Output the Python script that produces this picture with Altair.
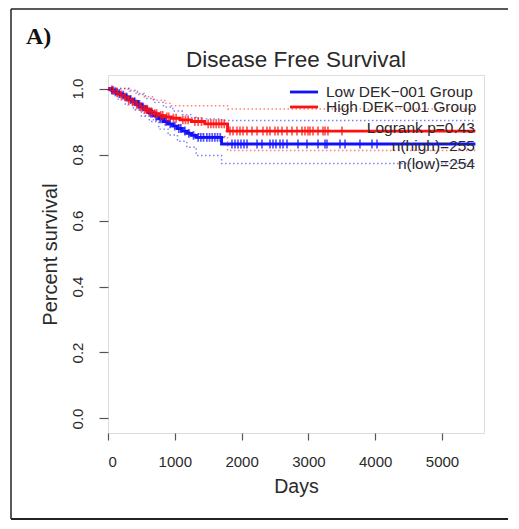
import altair as alt
import pandas as pd

# ---- data ----
low_t = [0, 40, 90, 140, 200, 260, 320, 380, 440, 500, 560, 620, 690, 760, 830, 900, 970, 1040, 1110, 1180, 1250, 1320, 1700, 5500]
low_s = [1.000, 0.996, 0.990, 0.985, 0.980, 0.974, 0.967, 0.960, 0.952, 0.944, 0.936, 0.926, 0.917, 0.908, 0.900, 0.893, 0.886, 0.879, 0.871, 0.864, 0.858, 0.852, 0.832, 0.832]
low_up_t = [0, 200, 320, 440, 560, 690, 830, 970, 1110, 1250, 1320, 1700, 5500]
low_up = [1.000, 1.000, 0.992, 0.982, 0.970, 0.958, 0.944, 0.932, 0.921, 0.912, 0.908, 0.903, 0.903]
low_lo_t = [0, 40, 140, 260, 380, 500, 620, 760, 900, 1040, 1180, 1320, 1700, 5500]
low_lo = [1.000, 0.985, 0.968, 0.952, 0.935, 0.916, 0.900, 0.877, 0.859, 0.840, 0.822, 0.797, 0.773, 0.773]

high_t = [0, 60, 120, 180, 240, 300, 360, 420, 480, 540, 600, 680, 760, 850, 950, 1080, 1250, 1450, 1790, 5500]
high_s = [1.000, 0.994, 0.987, 0.981, 0.974, 0.967, 0.960, 0.953, 0.945, 0.937, 0.930, 0.924, 0.918, 0.914, 0.910, 0.905, 0.900, 0.893, 0.871, 0.871]
high_up_t = [0, 180, 300, 420, 540, 680, 850, 950, 1790, 5500]
high_up = [1.000, 1.000, 0.995, 0.985, 0.975, 0.965, 0.955, 0.948, 0.938, 0.938]
high_lo_t = [0, 60, 180, 300, 420, 540, 680, 850, 1080, 1250, 1450, 1790, 5500]
high_lo = [1.000, 0.983, 0.965, 0.950, 0.935, 0.918, 0.902, 0.889, 0.870, 0.862, 0.855, 0.812, 0.812]

low_cens = [60, 110, 170, 230, 280, 340, 400, 450, 470, 520, 590, 640, 660, 720, 780, 810, 870, 930,
            1000, 1060, 1090, 1150, 1210, 1280, 1350, 1390, 1430, 1480, 1520, 1560, 1600, 1640, 1680,
            1856, 1901, 1946, 1991, 2036, 2081, 2231, 2305, 2425, 2470, 2515, 2575, 2620, 2680, 2844,
            2979, 3144, 3249, 3278, 3473, 3548, 3772, 3952, 4027]
high_cens = [80, 140, 200, 260, 310, 370, 430, 490, 550, 580, 620, 650, 700, 730, 790, 820, 880, 910,
             980, 1020, 1120, 1160, 1200, 1300, 1350, 1400, 1500, 1540, 1580, 1620, 1660, 1700, 1740,
             1826, 1871, 1931, 1976, 2021, 2081, 2156, 2231, 2320, 2380, 2425, 2500, 2545, 2605, 2680,
             2754, 2829, 2904, 2949, 2994, 3024, 3069, 3144, 3219, 3249, 3293, 3503]

groups = ["Low DEK\u2212001 Group", "High DEK\u2212001 Group"]
colors = ["#1010ff", "#ff1010"]
stats = ["Logrank p=0.43", "n(high)=255", "n(low)=254"]
title_text = "Disease Free Survival"
panel_label = "A)"
x_ticks = [0, 1000, 2000, 3000, 4000, 5000]
y_ticks = [0.0, 0.2, 0.4, 0.6, 0.8, 1.0]

# ---- tables ----
def step_at(ts, ss, t):
    v = ss[0]
    for a, b in zip(ts, ss):
        if a <= t:
            v = b
    return v

curves = pd.concat([
    pd.DataFrame({"t": low_t, "s": low_s, "g": groups[0], "k": "curve"}),
    pd.DataFrame({"t": high_t, "s": high_s, "g": groups[1], "k": "curve"}),
])
ci = pd.concat([
    pd.DataFrame({"t": low_up_t, "s": low_up, "g": groups[0], "k": "low_up"}),
    pd.DataFrame({"t": low_lo_t, "s": low_lo, "g": groups[0], "k": "low_lo"}),
    pd.DataFrame({"t": high_up_t, "s": high_up, "g": groups[1], "k": "high_up"}),
    pd.DataFrame({"t": high_lo_t, "s": high_lo, "g": groups[1], "k": "high_lo"}),
])
cens = pd.concat([
    pd.DataFrame({"t": low_cens, "s": [step_at(low_t, low_s, t) for t in low_cens], "g": groups[0]}),
    pd.DataFrame({"t": high_cens, "s": [step_at(high_t, high_s, t) for t in high_cens], "g": groups[1]}),
])

W, H = 376, 358
xs = alt.Scale(domain=[0, 5629], nice=False, zero=False)
ys = alt.Scale(domain=[-0.044, 1.041], nice=False, zero=False)
cs = alt.Scale(domain=groups, range=colors)
FONT = "Liberation Sans"
TXT = "#2a2a2a"

xenc = alt.X("t:Q", scale=xs, title="Days",
             axis=alt.Axis(values=x_ticks, format="d", tickSize=7, labelPadding=14,
                           labelFontSize=15, labelFont=FONT, labelColor=TXT,
                           titleFontSize=19.5, titleFont=FONT, titleColor=TXT, titleFontWeight="normal",
                           titlePadding=8, domain=False, grid=False, tickColor="#555", tickWidth=1.2))
yenc = alt.Y("s:Q", scale=ys, title="Percent survival",
             axis=alt.Axis(values=y_ticks, format=".1f", tickSize=9, labelAngle=270,
                           labelAlign="center", labelBaseline="bottom", labelPadding=14,
                           labelFontSize=15, labelFont=FONT, labelColor=TXT,
                           titleFontSize=20, titleFont=FONT, titleColor=TXT, titleFontWeight="normal",
                           titlePadding=10, domain=False, grid=False, tickColor="#555", tickWidth=1.2))
col = alt.Color("g:N", scale=cs, legend=None)

ci_layer = alt.Chart(ci).mark_line(interpolate="step-after", strokeDash=[1.5, 2.5],
                                   strokeWidth=1.4, opacity=0.55).encode(
    x=xenc, y=yenc, color=col, detail="k:N")
curve_layer = alt.Chart(curves).mark_line(interpolate="step-after", strokeWidth=2.9).encode(
    x="t:Q", y="s:Q", color=col)
cens_layer = alt.Chart(cens).mark_point(shape="M0,-1V1M-1,0H1", size=80, filled=False,
                                        strokeWidth=1.7).encode(
    x="t:Q", y="s:Q", color=col)

# legend (R style, no box), placed in pixels inside the plot frame
leg_layers = []
for i, (g, c) in enumerate(zip(groups, colors)):
    d = pd.DataFrame({"g": [g]})
    yy = 17 + 15 * i
    leg_layers.append(alt.Chart(d).mark_rule(strokeWidth=2.8, color=c).encode(
        x=alt.value(182), x2=alt.value(210), y=alt.value(yy)))
    leg_layers.append(alt.Chart(d).mark_text(align="left", baseline="middle", fontSize=15.5,
                                             font=FONT, color=TXT).encode(
        x=alt.value(218), y=alt.value(yy), text="g:N"))
for i, s in enumerate(stats):
    d = pd.DataFrame({"txt": [s]})
    leg_layers.append(alt.Chart(d).mark_text(align="right", baseline="middle", fontSize=15.5,
                                             font=FONT, color=TXT).encode(
        x=alt.value(367), y=alt.value(53 + 18 * i), text="txt:N"))

title_layer = alt.Chart(pd.DataFrame({"txt": [title_text]})).mark_text(
    align="center", baseline="alphabetic", fontSize=22.5, font=FONT, color=TXT).encode(
    x=alt.value(W / 2), y=alt.value(-8), text="txt:N")

panel = alt.Chart(pd.DataFrame({"txt": [panel_label]})).mark_text(
    align="left", baseline="alphabetic", fontSize=24, font="Liberation Serif",
    fontWeight="bold", color="#111").encode(x=alt.value(-82), y=alt.value(-31), text="txt:N")

frame = pd.DataFrame({"side": ["top", "left", "bottom"]})
frame_top = alt.Chart(frame.iloc[[0]]).mark_rule(color="#222", strokeWidth=1.5).encode(
    x=alt.value(-97), x2=alt.value(400), y=alt.value(-66))
frame_left = alt.Chart(frame.iloc[[1]]).mark_rule(color="#222", strokeWidth=1.5).encode(
    x=alt.value(-97), y=alt.value(-66), y2=alt.value(444))
frame_bot = alt.Chart(frame.iloc[[2]]).mark_rule(color="#222", strokeWidth=2).encode(
    x=alt.value(-97), x2=alt.value(400), y=alt.value(444))

chart = alt.layer(ci_layer, curve_layer, cens_layer, *leg_layers, title_layer,
                  panel, frame_top, frame_left, frame_bot).properties(
    width=W, height=H,
    autosize=alt.AutoSizeParams(type="none"),
    padding={"left": 100, "top": 67, "right": 27, "bottom": 88},
).configure_view(stroke="#666", strokeWidth=1.5).configure(background="white")

chart.save("out.html", embed_options={"renderer": "svg", "actions": False})
